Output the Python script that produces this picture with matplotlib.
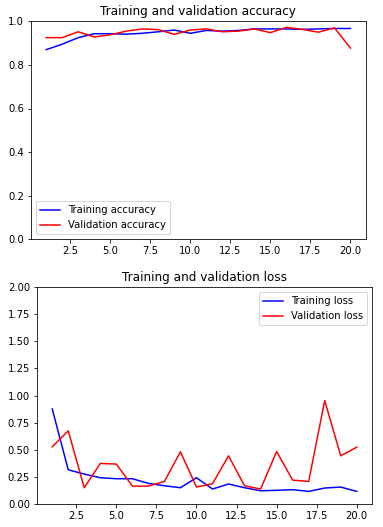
import matplotlib
matplotlib.use("Agg")
import matplotlib.pyplot as plt

epochs = list(range(1, 21))
train_acc = [0.870, 0.895, 0.925, 0.943, 0.943, 0.941, 0.945, 0.952, 0.960, 0.945,
             0.958, 0.955, 0.958, 0.965, 0.965, 0.965, 0.963, 0.965, 0.967, 0.967]
val_acc = [0.925, 0.925, 0.952, 0.928, 0.938, 0.955, 0.965, 0.962, 0.940, 0.960,
           0.965, 0.952, 0.955, 0.965, 0.948, 0.972, 0.963, 0.950, 0.970, 0.877]
train_loss = [0.876, 0.315, 0.276, 0.242, 0.233, 0.233, 0.190, 0.168, 0.150, 0.242,
              0.138, 0.184, 0.150, 0.122, 0.126, 0.132, 0.116, 0.147, 0.156, 0.116]
val_loss = [0.527, 0.674, 0.150, 0.374, 0.368, 0.165, 0.165, 0.208, 0.481, 0.156,
            0.187, 0.444, 0.168, 0.138, 0.484, 0.220, 0.208, 0.953, 0.444, 0.524]

fig = plt.figure(figsize=(383 / 72, 527 / 72), dpi=72)
ax1 = fig.add_axes([31 / 383, (527 - 239.3) / 527, 334.7 / 383, 218 / 527])
ax2 = fig.add_axes([37 / 383, (527 - 504) / 527, 335 / 383, 217 / 527])

ax1.plot(epochs, train_acc, 'b', label='Training accuracy')
ax1.plot(epochs, val_acc, 'r', label='Validation accuracy')
ax1.set_title('Training and validation accuracy')
ax1.set_ylim(0, 1)
ax1.legend(loc='lower left')

ax2.plot(epochs, train_loss, 'b', label='Training loss')
ax2.plot(epochs, val_loss, 'r', label='Validation loss')
ax2.set_title('Training and validation loss')
ax2.set_ylim(0, 2)
ax2.legend(loc='upper right')

fig.savefig('out.png', dpi=72)
